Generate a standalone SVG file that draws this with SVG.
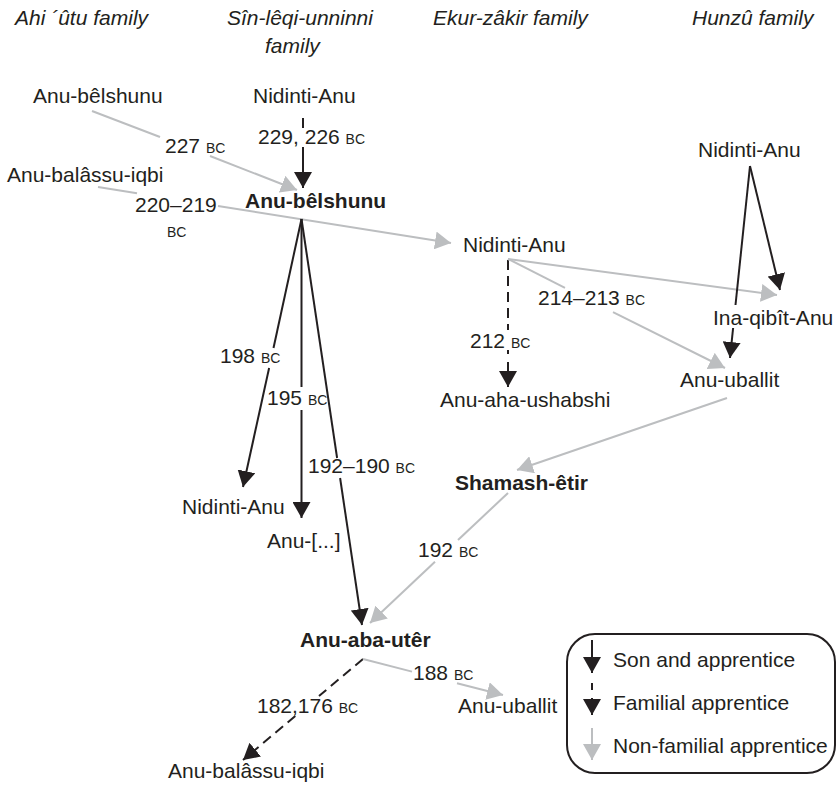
<svg xmlns="http://www.w3.org/2000/svg" width="838" height="791" viewBox="0 0 838 791">
<style>
text{font-family:"Liberation Sans",Arial,Helvetica,sans-serif;font-size:21px;fill:#231f20}
.hd{font-style:italic}
.b{font-weight:bold}
.bc{font-size:14px}
.k{stroke:#231f20;stroke-width:2;fill:none}
.g{stroke:#bcbec0;stroke-width:2;fill:none}
.d{stroke-dasharray:10 6}
.ak{marker-end:url(#ak)}
.ag{marker-end:url(#ag)}
</style>
<defs>
<marker id="ak" viewBox="0 0 16 18" refX="16" refY="9" markerWidth="16" markerHeight="18" markerUnits="userSpaceOnUse" orient="auto"><path d="M0,0 L16,9 L0,18 Z" fill="#231f20"/></marker>
<marker id="ag" viewBox="0 0 16 18" refX="16" refY="9" markerWidth="16" markerHeight="18" markerUnits="userSpaceOnUse" orient="auto"><path d="M0,0 L16,9 L0,18 Z" fill="#bcbec0"/></marker>
</defs>
<rect width="838" height="791" fill="#ffffff"/>
<g id="headers">
<text class="hd" x="15" y="25">Ahi ´ûtu family</text>
<text class="hd" x="227" y="25">Sîn-lêqi-unninni</text>
<text class="hd" x="265" y="53">family</text>
<text class="hd" x="433" y="25">Ekur-zâkir family</text>
<text class="hd" x="692" y="25">Hunzû family</text>
</g>
<g id="connectors">
<line class="g" x1="92" y1="111" x2="160" y2="137"/>
<line class="g ag" x1="210" y1="156" x2="297" y2="190"/>
<line class="k" x1="303" y1="118" x2="303" y2="128"/>
<line class="k ak" x1="303" y1="147" x2="303" y2="188"/>
<line class="g" x1="98" y1="187" x2="137" y2="193.2"/>
<line class="g ag" x1="218" y1="206" x2="451" y2="243"/>
<line class="k" x1="301.5" y1="219" x2="273.5" y2="348"/>
<line class="k ak" x1="269.1" y1="368" x2="243" y2="487"/>
<line class="k" x1="301.5" y1="219" x2="301.5" y2="387"/>
<line class="k ak" x1="301.5" y1="410" x2="301.5" y2="518"/>
<line class="k" x1="301.5" y1="219" x2="337.1" y2="458"/>
<line class="k ak" x1="340.1" y1="478" x2="362" y2="625"/>
<line class="k d" x1="508" y1="260" x2="508" y2="330"/>
<line class="k" x1="508" y1="350" x2="508" y2="354"/>
<line class="k ak" x1="508" y1="362" x2="508" y2="387"/>
<line class="g ag" x1="508" y1="259" x2="777" y2="295"/>
<line class="g" x1="508" y1="259" x2="565" y2="287.9"/>
<line class="g ag" x1="613" y1="312.2" x2="725" y2="368"/>
<line class="k ak" x1="750" y1="166" x2="780" y2="290"/>
<line class="k" x1="750" y1="166" x2="735.5" y2="305"/>
<line class="k ak" x1="733.1" y1="328" x2="730" y2="358"/>
<line class="g ag" x1="727" y1="398" x2="517" y2="470"/>
<line class="g" x1="508" y1="493" x2="458" y2="540"/>
<line class="g ag" x1="435" y1="561.8" x2="370" y2="623"/>
<line class="k d" x1="363" y1="659" x2="319" y2="696"/>
<line class="k d ak" x1="295.3" y1="716" x2="243" y2="760"/>
<line class="g" x1="363" y1="659" x2="412" y2="671.6"/>
<line class="g ag" x1="457" y1="683.3" x2="503" y2="695"/>
</g>
<g id="connector-labels">
<text x="165" y="153">227 <tspan class="bc">BC</tspan></text>
<text x="258" y="144">229, 226 <tspan class="bc">BC</tspan></text>
<text x="135" y="212">220–219</text>
<text class="bc" x="167" y="237">BC</text>
<text x="220" y="363">198 <tspan class="bc">BC</tspan></text>
<text x="267" y="405">195 <tspan class="bc">BC</tspan></text>
<text x="308" y="473">192–190 <tspan class="bc">BC</tspan></text>
<text x="470" y="348">212 <tspan class="bc">BC</tspan></text>
<text x="538" y="305">214–213 <tspan class="bc">BC</tspan></text>
<text x="418" y="557">192 <tspan class="bc">BC</tspan></text>
<text x="413" y="680">188 <tspan class="bc">BC</tspan></text>
<text x="257" y="713">182,176 <tspan class="bc">BC</tspan></text>
</g>
<g id="n-anu-belshunu-ahiutu"><text x="33" y="103">Anu-bêlshunu</text></g>
<g id="n-nidinti-anu-top"><text x="253" y="103">Nidinti-Anu</text></g>
<g id="n-anu-balassu-iqbi-top"><text x="7" y="182">Anu-balâssu-iqbi</text></g>
<g id="n-anu-belshunu"><text class="b" x="245" y="208">Anu-bêlshunu</text></g>
<g id="n-nidinti-anu-ekur"><text x="463" y="252">Nidinti-Anu</text></g>
<g id="n-nidinti-anu-hunzu"><text x="698" y="157">Nidinti-Anu</text></g>
<g id="n-ina-qibit-anu"><text x="713" y="325">Ina-qibît-Anu</text></g>
<g id="n-anu-uballit-hunzu"><text x="680" y="387">Anu-uballit</text></g>
<g id="n-anu-aha-ushabshi"><text x="440" y="407">Anu-aha-ushabshi</text></g>
<g id="n-nidinti-anu-left"><text x="182" y="514">Nidinti-Anu</text></g>
<g id="n-anu-x"><text x="267" y="548">Anu-[...]</text></g>
<g id="n-shamash-etir"><text class="b" x="455" y="490">Shamash-êtir</text></g>
<g id="n-anu-aba-uter"><text class="b" x="300" y="647">Anu-aba-utêr</text></g>
<g id="n-anu-uballit-bottom"><text x="458" y="713">Anu-uballit</text></g>
<g id="n-anu-balassu-iqbi-bottom"><text x="168" y="778">Anu-balâssu-iqbi</text></g>
<g id="legend">
<rect x="567" y="634" width="268" height="139" rx="28" ry="28" fill="#ffffff" stroke="#231f20" stroke-width="2"/>
<line class="k ak" x1="592" y1="640" x2="592" y2="673"/>
<line class="k" x1="592" y1="683" x2="592" y2="690"/>
<line class="k ak" x1="592" y1="698" x2="592" y2="715"/>
<line class="g ag" x1="592" y1="728" x2="592" y2="760"/>
<text x="613" y="667">Son and apprentice</text>
<text x="613" y="710">Familial apprentice</text>
<text x="613" y="753">Non-familial apprentice</text>
</g>
</svg>
